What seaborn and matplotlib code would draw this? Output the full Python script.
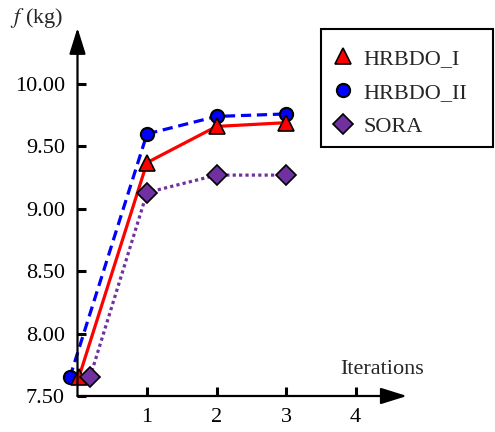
import matplotlib
matplotlib.use("Agg")
import matplotlib.pyplot as plt
import seaborn as sns
import pandas as pd
from matplotlib.lines import Line2D
from matplotlib.patches import Rectangle

# ---- data ----
x_hrbdo1 = [0.02, 1, 2, 3]
f_hrbdo1 = [7.65, 9.37, 9.66, 9.69]
x_hrbdo2 = [-0.11, 1, 2, 3]
f_hrbdo2 = [7.65, 9.60, 9.74, 9.76]
x_sora = [0.18, 1, 2, 3]
f_sora = [7.65, 9.13, 9.27, 9.27]
x_ticks = [1, 2, 3, 4]
y_ticks = [7.50, 8.00, 8.50, 9.00, 9.50, 10.00]

sns.set_theme(style="white")
plt.rcParams['font.family'] = ['Liberation Serif', 'DejaVu Serif']
plt.rcParams['mathtext.fontset'] = 'stix'

fig = plt.figure(figsize=(4.95, 4.32), dpi=100)
ax = fig.add_axes([0, 0, 1, 1])
ax.set_xlim(-1.115, 6.007)
ax.set_ylim(7.2115, 10.673)

sora_c = '#7030A0'
sns.lineplot(x=x_hrbdo2, y=f_hrbdo2, ax=ax, sort=False, color='blue', lw=2.3,
             linestyle=(0, (3.2, 1.8)), marker='o', markersize=9.5,
             markerfacecolor='blue', markeredgecolor='black', markeredgewidth=1.5)
sns.lineplot(x=x_hrbdo1, y=f_hrbdo1, ax=ax, sort=False, color='red', lw=2.3,
             linestyle='-', marker='^', markersize=12,
             markerfacecolor='red', markeredgecolor='black', markeredgewidth=1.2)
sns.lineplot(x=x_sora, y=f_sora, ax=ax, sort=False, color=sora_c, lw=2.3,
             linestyle=(0, (1.0, 1.0)), marker='D', markersize=10,
             markerfacecolor=sora_c, markeredgecolor='black', markeredgewidth=1.2)

# axes arrows
for s in ax.spines.values():
    s.set_visible(False)
ax.spines['left'].set_position(('data', 0))
ax.spines['bottom'].set_position(('data', 7.5))
arrow = dict(arrowstyle='-|>,head_length=0.8,head_width=0.25', lw=1.6,
             color='black', mutation_scale=20, shrinkA=0, shrinkB=0)
ax.annotate('', xy=(0, 10.45), xytext=(0, 7.5), arrowprops=arrow)
ax.annotate('', xy=(4.74, 7.5), xytext=(0, 7.5), arrowprops=arrow)

ax.set_xticks(x_ticks)
ax.set_xticklabels([str(t) for t in x_ticks])
ax.set_yticks(y_ticks)
ax.set_yticklabels([f"{t:.2f}" for t in y_ticks])
ax.tick_params(axis='both', direction='in', length=6.5, width=2.2, color='black',
               labelsize=16, labelcolor='black')
ax.tick_params(axis='y', pad=9)
ax.tick_params(axis='x', pad=9)
ax.tick_params(left=True, bottom=True)
ax.grid(False)

ax.text(-0.97, 10.53, r'$f$ (kg)', fontsize=16, ha='left', va='center')
ax.text(3.78, 7.71, 'Iterations', fontsize=16, ha='left', va='center')

handles = [
    Line2D([], [], linestyle='none', marker='^', markersize=12, markerfacecolor='red',
           markeredgecolor='black', markeredgewidth=1.2),
    Line2D([], [], linestyle='none', marker='o', markersize=9.5, markerfacecolor='blue',
           markeredgecolor='black', markeredgewidth=1.5),
    Line2D([], [], linestyle='none', marker='D', markersize=10, markerfacecolor=sora_c,
           markeredgecolor='black', markeredgewidth=1.2),
]
leg = ax.legend(handles, ['HRBDO_I', 'HRBDO_II', 'SORA'], loc='upper left',
                bbox_to_anchor=(321 / 495, 1 - 30.4 / 432), borderaxespad=0, fontsize=16,
                frameon=False, handlelength=0.4, handletextpad=0.71, labelspacing=0.6,
                borderpad=0.8)
fig.patches.append(Rectangle((321 / 495, 1 - 147 / 432), 172 / 495, 118 / 432,
                             transform=fig.transFigure, fill=False,
                             edgecolor='black', linewidth=1.5))

fig.savefig('out.png', dpi=100)
